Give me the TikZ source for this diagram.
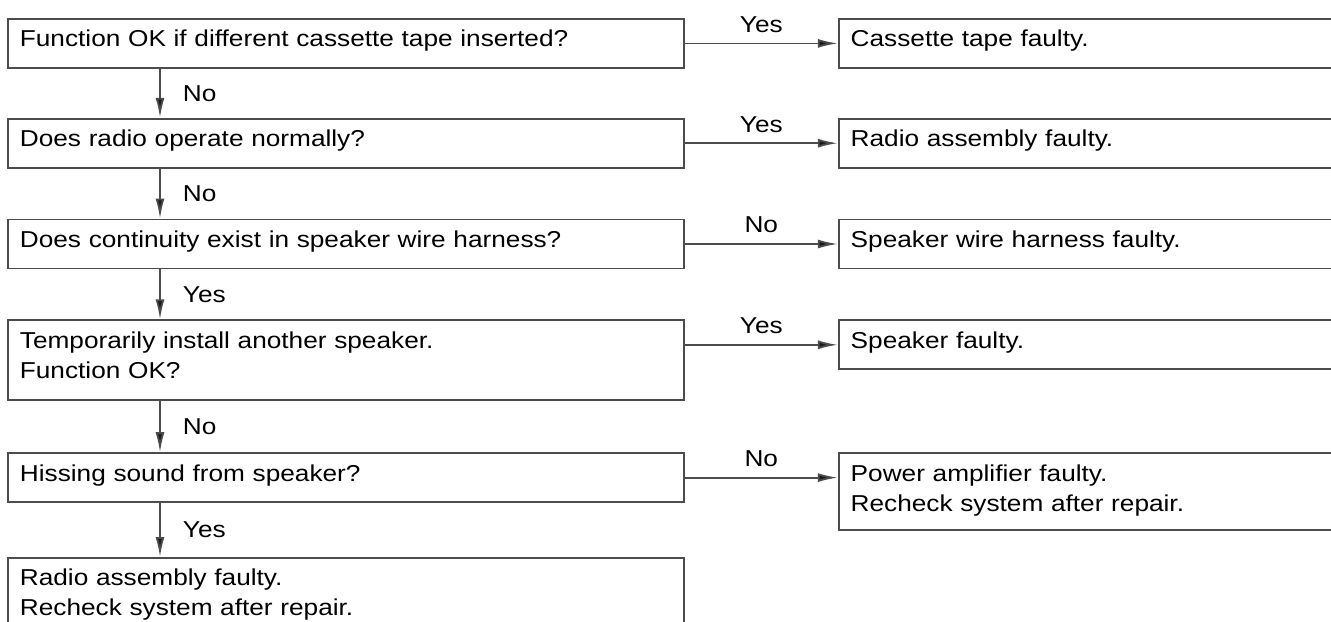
\documentclass[tikz,border=0pt]{standalone}
\usepackage{fontspec}
\setmainfont{Liberation Sans}[FakeStretch=1.14]
\usetikzlibrary{positioning,arrows.meta}

\begin{document}
\begin{tikzpicture}[
    x=0.5pt, y=-0.5pt,
    node distance=25pt and 76.5pt,
    box/.style={rectangle, draw=black!70, line width=0.9pt, text width=326pt, align=left, inner xsep=6pt, inner ysep=0pt, text height=14pt, text depth=10.5pt, font=\fontsize{11.5pt}{15pt}\selectfont},
    result/.style={box, text width=280pt},
    arr/.style={draw=black!70, line width=0.9pt, -{Latex[length=10pt,width=4.5pt,fill=black!90]}},
    lbl/.style={font=\fontsize{11.5pt}{15pt}\selectfont, inner sep=2pt}
]
    \useasboundingbox (0,0) rectangle (1331,621);
    \clip (0,0) rectangle (1331,621);

    \node[box, anchor=north west] (tape) at (7,18) {Function OK if different cassette tape inserted?};
    \node[box, below=24.5pt of tape] (radio) {Does radio operate normally?};
    \node[box, below=25pt of radio] (harness) {Does continuity exist in speaker wire harness?};
    \node[box, below=25pt of harness, text depth=26pt] (speaker) {Temporarily install another speaker.\\Function OK?};
    \node[box, below=25.5pt of speaker] (hiss) {Hissing sound from speaker?};
    \node[box, below=27pt of hiss, text depth=40pt] (radiofix) {Radio assembly faulty.\\Recheck system after repair.};

    \node[result, right=of tape] (tapefault) {Cassette tape faulty.};
    \node[result, right=of radio] (radiofault) {Radio assembly faulty.};
    \node[result, right=of harness] (harnessfault) {Speaker wire harness faulty.};
    \node[result, right=76.5pt of speaker.north east, anchor=north west] (speakerfault) {Speaker faulty.};
    \node[result, right=76.5pt of hiss.north east, anchor=north west, text depth=24.5pt] (ampfault) {Power amplifier faulty.\\Recheck system after repair.};

    \draw[arr] ([xshift=76.5pt]tape.south west) -- ([xshift=76.5pt]radio.north west) node[lbl, midway, right=9pt] {No};
    \draw[arr] ([xshift=76.5pt]radio.south west) -- ([xshift=76.5pt]harness.north west) node[lbl, midway, right=9pt] {No};
    \draw[arr] ([xshift=76.5pt]harness.south west) -- ([xshift=76.5pt]speaker.north west) node[lbl, midway, right=9pt] {Yes};
    \draw[arr] ([xshift=76.5pt]speaker.south west) -- ([xshift=76.5pt]hiss.north west) node[lbl, midway, right=9pt] {No};
    \draw[arr] ([xshift=76.5pt]hiss.south west) -- ([xshift=76.5pt]radiofix.north west) node[lbl, midway, right=9pt] {Yes};

    \draw[arr] (tape) -- (tapefault) node[lbl, midway, above=3pt] {Yes};
    \draw[arr] (radio) -- (radiofault) node[lbl, midway, above=3pt] {Yes};
    \draw[arr] (harness) -- (harnessfault) node[lbl, midway, above=3pt] {No};
    \draw[arr] (speaker.east |- speakerfault.west) -- (speakerfault.west) node[lbl, midway, above=3pt] {Yes};
    \draw[arr] (hiss.east) -- (hiss.east -| ampfault.west) node[lbl, midway, above=3pt] {No};
\end{tikzpicture}
\end{document}
